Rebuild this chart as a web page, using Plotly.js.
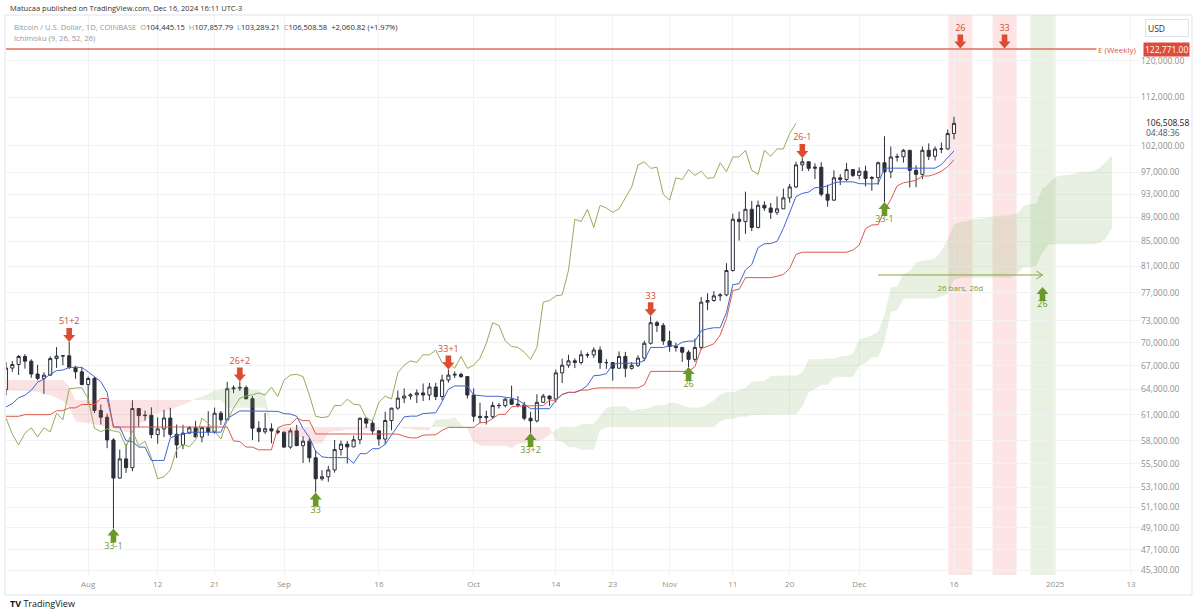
<!DOCTYPE html>
<html><head><meta charset="utf-8">
<script src="https://cdn.plot.ly/plotly-3.0.1.min.js"></script>
<style>html,body{margin:0;padding:0;background:#fff;}#chart{width:1200px;height:614px;}</style>
</head><body><div id="chart"></div>
<script>
// ---------- DATA (daily candles, Jul 19 2024 -> Dec 16 2024) ----------
const firstDay = '2024-07-19';
const open = [63990,66680,67140,68170,67560,65920,65370,65780,67900,68230,68260,66780,66200,
64620,65360,61480,60690,58110,54020,56040,55110,61710,60880,60920,58710,59350,60600,58740,57560,58870,59480,58440,59490,59010,61160,60380,64090,64180,64220,62880,59430,59030,59370,59120,
58970,57320,59130,57480,57970,56160,53950,54160,54870,57050,57650,57340,58130,60570,60010,59130,58210,60310,61760,62950,63200,63350,63580,63330,64300,63140,65180,65790,65880,65600,
63330,60800,60650,60760,62080,62060,62820,62220,62130,60580,60270,62450,63200,62850,66070,67050,67610,67400,68400,68380,69020,67370,67380,66660,68180,66640,67030,67960,69920,72720,72350,
70220,69490,69370,68730,67800,69360,75640,75880,76560,76700,80370,88650,88250,90350,87270,91050,90580,89830,90430,92350,94300,98370,98950,97720,97920,93000,91950,95960,95650,97480,
96410,97180,95850,96000,98770,97080,99850,99900,101150,97350,96600,101150,100000,101400,101420,104445.15];
const high = [67450,67600,68380,68480,67800,67100,66150,68200,69400,68300,70080,66970,66800,
65600,65580,62180,61100,58300,57050,57700,62700,61750,61470,61850,60680,61570,61800,59850,59820,59680,60280,59620,61400,61820,61420,64950,64500,65000,64480,63200,60230,61180,59980,59430,
59070,59430,59810,58520,58300,56990,54850,55300,58100,58040,57990,58590,60650,60630,60380,59210,61340,61790,63870,64130,63550,64000,64740,64800,64820,65830,66500,66260,66080,65620,
64130,62400,61460,62500,62370,62990,64480,63200,62520,61330,63420,63470,63280,66490,67900,68400,67930,68950,68690,69380,69500,67820,67440,68840,68780,67450,68330,70250,73620,72980,72680,
71590,70000,69400,69000,70570,76400,76950,77250,76950,81500,89600,89960,93450,91800,91850,91750,91450,92600,94000,94850,98970,99650,98990,98660,98880,94700,97350,96650,98700,97490,
97900,98200,96300,99000,103900,101900,100500,101400,101200,98300,101900,102500,101900,102650,105250,107857.79];
const low = [63300,66200,65800,66600,65450,65150,63450,65750,66700,67050,66550,65320,64520,
62300,61180,59860,57200,49050,53970,54560,54730,59590,60300,58290,57690,58430,58450,56140,57100,58850,58440,57850,58580,58800,59800,60350,63560,63820,62800,58100,57870,58780,57750,58740,
57220,57130,57420,55600,55670,52550,53750,53640,54590,56400,55550,57330,57640,59450,58700,57500,57620,59190,61570,62360,62770,62360,62600,62700,62720,62680,64850,65430,65440,62900,
60170,59990,59850,60480,61710,61840,62130,61850,60320,58900,60080,62400,62040,62450,64800,66720,66670,67130,68000,68000,66570,66570,65100,66580,65520,66490,66800,67550,69740,71440,69700,
68800,68810,67480,66800,67460,69100,74480,75700,75820,76500,80200,85100,86200,86650,87100,90060,88700,89380,90400,91500,94100,97220,97200,95740,92600,90800,91830,94620,95380,96100,
95700,94400,93600,94700,91600,95900,99000,98800,94200,94250,95700,99300,99200,100600,101250,103289.21];
const close = [66680,67140,68170,67560,65920,65370,65780,67900,68230,68260,66780,66200,64620,
65360,61480,60690,58110,54020,56040,55110,61710,60880,60920,58710,59350,60600,58740,57560,58870,59480,58440,59490,59010,61160,60380,64090,64180,64220,62880,59430,59030,59370,59120,58970,
57320,59130,57480,57970,56160,53950,54160,54870,57050,57650,57340,58130,60570,60010,59130,58210,60310,61760,62950,63200,63350,63580,63330,64300,63140,65180,65790,65880,65600,63330,
60800,60650,60760,62080,62060,62820,62220,62130,60580,60270,62450,63200,62850,66070,67050,67610,67400,68400,68380,69020,67370,67380,66660,68180,66640,67030,67960,69920,72720,72350,70220,
69490,69370,68730,67800,69360,75640,75880,76560,76700,80370,88650,88250,90350,87270,91050,90580,89830,90430,92350,94300,98370,98950,97720,97920,93000,91950,95960,95650,97480,96410,
97180,95850,96000,98770,97080,99850,99900,101150,97350,96600,101150,100000,101400,101420,104445.15,106508.58];

// Ichimoku conversion (blue) and base (red) lines, same days as candles
const tenkan = [61900,62300,63000,63300,63900,64900,65300,65890,66350,66425,66765,66765,66765,
66190,65630,64970,63640,59565,59565,58010,57925,57325,57315,55875,55875,55875,58335,58630,58715,58970,58970,58970,58970,58980,58980,60545,61025,61425,61425,61425,61435,61435,61375,61375,
61110,61065,60805,59400,58390,56865,56265,56180,56180,56180,56180,55570,56600,56600,57145,57145,57620,58670,59710,60730,60815,60815,61120,61150,61220,62510,64035,64430,64430,64430,
63335,63245,63175,63175,63175,63055,62965,62735,62165,61690,61690,61690,61690,62695,63400,63650,63650,63925,64515,65710,65770,65975,67150,67300,67300,67300,67300,67675,69360,69360,69360,
69570,69570,70055,70210,70210,71600,71875,72025,72025,74150,78200,78380,80455,81275,83965,84575,84635,84975,87100,89975,92585,93150,93375,94175,94175,94515,95025,95225,95225,95225,
94895,94840,94840,94900,97750,97750,97750,97750,97750,97750,97750,97750,97750,98425,99725,101030];
const kijun = [60800,60800,60800,60990,60990,60990,60990,60990,61450,61450,61790,61790,62190,
62190,62190,62900,62900,59565,59565,59565,59565,59565,59565,59565,59565,59565,59565,59565,59565,59565,59565,59565,59565,59565,59565,59565,58010,57925,57325,57315,57025,57025,57025,59485,
59780,59865,60570,60300,60300,58775,58775,58775,58775,58775,58775,58775,58775,58775,58775,58775,58775,58775,58775,58515,58340,58340,58645,58675,58685,59190,59525,59525,59525,59525,
59525,60070,60070,60545,61025,61025,61915,62000,62000,62000,62000,62060,62700,62700,63400,63650,63650,63925,63925,64140,64200,64200,64200,64200,64200,64200,64200,64575,66260,66260,66260,
66260,66260,66260,66260,66850,69220,69495,69850,71025,73300,77350,77530,79275,79275,79275,79275,79275,79485,79760,80670,82885,83225,83225,83225,83225,83225,83225,83225,83225,83555,
84375,87065,87675,87735,90200,92050,94500,95050,95275,95500,96300,96300,96640,97150,98025,99330];
// Leading spans as drawn (Jul 19 2024 -> Jan 10 2025)
const spanA = [63900,63900,63850,63850,63800,63700,63500,63300,63000,62600,61850,60200,60100,
60000,59875,59700,59500,59300,59125,59000,58950,59925,60175,61050,61150,61350,61550,61900,62145,62445,62945,63145,63440,63900,63938,64278,64278,64478,64190,63910,63935,63270,59565,59565,
58788,58745,58445,58440,57720,57720,57720,58950,59098,59140,59268,59268,59268,59268,59273,59273,60055,59518,59675,59375,59370,59230,59230,59200,60430,60445,60465,60688,59850,59345,
57820,57520,57478,57478,57478,57478,57173,57688,57688,57960,57960,58198,58723,59243,59623,59578,59578,59883,59913,59953,60850,61780,61978,61978,61978,61430,61658,61623,61860,62100,62040,
62440,62368,62083,61845,61845,61875,62195,62698,63400,63650,63650,63925,64220,64925,64985,65088,65675,65750,65750,65750,65750,66125,67810,67810,67810,67915,67915,68158,68235,68530,
70410,70685,70938,71525,73725,77775,77955,79865,80275,81620,81925,81955,82230,83430,85323,87735,88188,88300,88700,88700,88870,89125,89225,89225,89390,89635,90953,91258,91318,93975,94900,
96125,96400,96513,96625,97025,97025,97195,97788,98875,100180];
const spanB = [65175,65175,65175,65175,65175,65175,65175,65175,65175,65175,64375,62725,62725,
62725,62725,62725,62725,62725,62725,62725,62725,62725,62725,62725,62725,62725,62725,62725,62725,62725,62725,62725,62725,62725,62725,61790,61790,61790,61790,61790,61790,61790,59565,59565,
59565,59565,59565,59565,59565,59565,59565,59565,59565,59565,59565,59565,59565,59565,59565,59565,59565,59565,59565,59565,59565,59565,59565,59565,59565,59565,59565,59565,59565,59565,
59565,59565,59565,59565,59565,59565,59565,59565,59565,59565,59565,59565,59565,58010,57925,57325,57315,57025,57025,57025,59190,59525,59525,59525,59525,59525,59525,59525,59525,59525,59525,
59525,59525,59525,59525,59525,59525,59525,59525,60225,60475,60475,60750,60750,60965,61025,61025,61025,61025,61025,61025,61025,61945,63630,64105,64585,64585,65475,65560,65560,65560,
66950,67285,68075,68075,70200,74250,74430,76175,76175,76175,76175,76175,76175,76450,76875,78935,79275,79275,79275,79275,79275,79275,79275,79275,79275,79865,80845,80845,81050,83175,84500,
84500,84500,84500,84500,84500,84500,84500,84710,85385,87175];
const laggingShift = 25;

const priceTicks = [45300,47100,49100,51100,53100,55500,58000,61000,64000,67000,70000,73000,77000,81000,85000,89000,93000,97000,102000,112000,120000];
const priceTickText = ['45,300.00','47,100.00','49,100.00','51,100.00','53,100.00','55,500.00','58,000.00','61,000.00','64,000.00','67,000.00','70,000.00','73,000.00','77,000.00','81,000.00','85,000.00','89,000.00','93,000.00','97,000.00','102,000.00','112,000.00','120,000.00'];
const timeTicks = ['2024-08-01','2024-08-12','2024-08-21','2024-09-01','2024-09-16','2024-10-01','2024-10-14','2024-10-23','2024-11-01','2024-11-11','2024-11-20','2024-12-01','2024-12-16','2025-01-01','2025-01-13'];
const timeTickText = ['Aug','12','21','Sep','16','Oct','14','23','Nov','11','20','Dec','16','2025','13'];

const redDates = ['2024-07-29','2024-08-25','2024-09-27','2024-10-29','2024-11-22','2024-12-17','2024-12-24'];
const redPrices = [70080,65000,66500,73620,99650,122900,122900];
const redLabels = ['51+2','26+2','33+1','33','26-1','26','33'];
const greenDates = ['2024-08-05','2024-09-06','2024-10-10','2024-11-04','2024-12-05','2024-12-30'];
const greenPrices = [49050,52550,58900,66800,91600,77880];
const greenLabels = ['33-1','33','33+2','26','33-1','26'];

const levelPrice = 122771;
const levelLabel = 'E (Weekly)';
const bandCenters = ['2024-12-17','2024-12-24','2024-12-30'];
const bandColors = ['rgba(242,80,80,0.15)','rgba(242,80,80,0.15)','rgba(120,170,80,0.16)'];
const measureFrom = '2024-12-04', measureTo = '2024-12-30', measurePrice = 79680, measureLabel = '26 bars, 26d';

// ---------- GEOMETRY ----------
const W=1200,H=614,ML=6,MR=60,MT=15,MB=39;
const PW=W-ML-MR, PH=H-MT-MB;
const xStart='2024-07-19 00:00:00', xEnd='2025-01-14 10:20:00';
const yLo=44876, yHi=131040;
const DAY=86400000;
function toMs(s){ s=String(s); if(s.length===10) s+=' 00:00:00'; return Date.parse(s.replace(' ','T')+'Z'); }
function ms2s(ms){ return new Date(ms).toISOString().slice(0,19).replace('T',' '); }
const msPerPx=(toMs(xEnd)-toMs(xStart))/PW;
const pxPerLn=PH/Math.log(yHi/yLo);
const t0=toMs(firstDay);
const dates=close.map((_,i)=>ms2s(t0+i*DAY));
const spanDates=spanA.map((_,i)=>ms2s(t0+i*DAY));
const lagDates=close.map((_,i)=>ms2s(t0+(i-laggingShift)*DAY));
function xp(px){return (px-ML)/PW;}
function ypPix(py){return (MT+PH-py)/PH;}
function ypPrice(p){return Math.log(p/yLo)/Math.log(yHi/yLo);}
function shiftY(p,px){return p*Math.exp(px/pxPerLn);}

// cloud polygons
function cloud(){
  const g={x:[],y:[]}, r={x:[],y:[]};
  let run=null;
  const T=spanDates.map(toMs);
  function flush(){ if(!run) return; const tg=run.s>0?g:r; const pts=run.up.concat(run.dn.slice().reverse());
    pts.forEach(p=>{tg.x.push(ms2s(p[0]));tg.y.push(p[1]);}); tg.x.push(null); tg.y.push(null); run=null; }
  for(let i=0;i<T.length;i++){
    const d=spanA[i]-spanB[i]; const s=d>0?1:(d<0?-1:0);
    if(!run){ run={s:s||-1,up:[[T[i],spanA[i]]],dn:[[T[i],spanB[i]]]}; continue; }
    if(s===0||s===run.s){ run.up.push([T[i],spanA[i]]); run.dn.push([T[i],spanB[i]]); }
    else {
      const d0=spanA[i-1]-spanB[i-1]; const f=d0/(d0-d);
      const tc=T[i-1]+f*(T[i]-T[i-1]); const yc=spanA[i-1]+f*(spanA[i]-spanA[i-1]);
      run.up.push([tc,yc]); run.dn.push([tc,yc]); flush();
      run={s:s,up:[[tc,yc],[T[i],spanA[i]]],dn:[[tc,yc],[T[i],spanB[i]]]};
    }
  }
  flush();
  return [g,r];
}
const [cg,cr]=cloud();

function arrows(ds,ps,dir){ // dir -1: pointing down (body above), +1 pointing up
  const x=[],y=[]; const s=dir<0?1:-1;
  const pts=[[0,0],[-6,7],[-2.8,7],[-2.8,14],[2.8,14],[2.8,7],[6,7],[0,0]];
  ds.forEach((d,i)=>{ const t=toMs(d); pts.forEach(p=>{x.push(ms2s(t+p[0]*msPerPx)); y.push(shiftY(ps[i],s*p[1]));}); x.push(null); y.push(null); });
  return {x,y};
}
const ra=arrows(redDates,redPrices,-1), ga=arrows(greenDates,greenPrices,1);
const RED='#dd4b32', GREEN='#6b982a', FONT='Open Sans, Liberation Sans, sans-serif';

const traces=[
 {x:cr.x,y:cr.y,type:'scatter',mode:'lines',fill:'toself',fillcolor:'rgba(240,90,90,0.17)',line:{width:0},hoverinfo:'skip'},
 {x:cg.x,y:cg.y,type:'scatter',mode:'lines',fill:'toself',fillcolor:'rgba(110,165,80,0.17)',line:{width:0},hoverinfo:'skip'},
 {x:lagDates,y:close,type:'scatter',mode:'lines',line:{color:'#98ab5c',width:1},hoverinfo:'skip'},
 {x:[ms2s(t0-3*DAY),'2025-01-07 19:00:00'],y:[levelPrice,levelPrice],type:'scatter',mode:'lines',line:{color:'#e06c5e',width:1.5},hoverinfo:'skip'},
 {type:'candlestick',x:dates,open:open,high:high,low:low,close:close,whiskerwidth:0,
  increasing:{line:{color:'#2b2f3a',width:1},fillcolor:'#ffffff'},
  decreasing:{line:{color:'#2b2f3a',width:1},fillcolor:'#2b2f3a'},hoverinfo:'skip'},
 {x:dates,y:tenkan,type:'scatter',mode:'lines',line:{color:'#3d66d6',width:1},hoverinfo:'skip'},
 {x:dates,y:kijun,type:'scatter',mode:'lines',line:{color:'#d95a4e',width:1},hoverinfo:'skip'},
 {x:ra.x,y:ra.y,type:'scatter',mode:'lines',fill:'toself',fillcolor:RED,line:{width:0,color:RED},hoverinfo:'skip'},
 {x:ga.x,y:ga.y,type:'scatter',mode:'lines',fill:'toself',fillcolor:GREEN,line:{width:0,color:GREEN},hoverinfo:'skip'},
 {x:redDates,y:redPrices.map(p=>shiftY(p,20)),text:redLabels,type:'scatter',mode:'text',textposition:'middle center',textfont:{family:FONT,size:9,color:'#d44a36'},hoverinfo:'skip'},
 {x:greenDates,y:greenPrices.map(p=>shiftY(p,-18)),text:greenLabels,type:'scatter',mode:'text',textposition:'middle center',textfont:{family:FONT,size:9,color:'#6f962a'},hoverinfo:'skip'},
 {x:[measureFrom,measureTo],y:[measurePrice,measurePrice],type:'scatter',mode:'lines',line:{color:'#86a53b',width:1},hoverinfo:'skip'},
 {x:[ms2s(toMs(measureTo)-6*msPerPx),measureTo,ms2s(toMs(measureTo)-6*msPerPx)],y:[shiftY(measurePrice,4),measurePrice,shiftY(measurePrice,-4)],type:'scatter',mode:'lines',line:{color:'#86a53b',width:1},hoverinfo:'skip'},
 {x:['2024-12-17'],y:[shiftY(measurePrice,-14)],text:[measureLabel],type:'scatter',mode:'text',textfont:{family:FONT,size:8,color:'#7d9c33'},hoverinfo:'skip'}
];

const shapes=bandCenters.map((c,i)=>({type:'rect',xref:'x',yref:'paper',x0:ms2s(toMs(c)-12*msPerPx),x1:ms2s(toMs(c)+12*msPerPx),y0:0,y1:1,fillcolor:bandColors[i],line:{width:0},layer:'below'}));
shapes.push({type:'rect',xref:'paper',yref:'paper',x0:xp(5),x1:xp(1192),y0:ypPix(595),y1:ypPix(15),line:{color:'#e0e3eb',width:1},fillcolor:'rgba(0,0,0,0)'});

const gray='#9598a1', dark='#2a2e39';
const ann=[
 {xref:'paper',yref:'paper',x:xp(8),y:ypPix(8),xanchor:'left',yanchor:'middle',showarrow:false,text:'Matucaa published on TradingView.com, Dec 16, 2024 16:11 UTC-3',font:{family:FONT,size:7.5,color:'#333'}},
 {xref:'paper',yref:'paper',x:xp(12),y:ypPix(27),xanchor:'left',yanchor:'middle',showarrow:false,
  text:'<span style="color:'+gray+'">Bitcoin / U.S. Dollar, 1D, COINBASE\u00a0\u00a0O</span>104,445.15\u00a0\u00a0<span style="color:'+gray+'">H</span>107,857.79\u00a0\u00a0<span style="color:'+gray+'">L</span>103,289.21\u00a0\u00a0<span style="color:'+gray+'">C</span>106,508.58\u00a0\u00a0+2,060.82 (+1.97%)',
  font:{family:FONT,size:7.6,color:dark}},
 {xref:'paper',yref:'paper',x:xp(12),y:ypPix(38),xanchor:'left',yanchor:'middle',showarrow:false,text:'Ichimoku (9, 26, 52, 26)',font:{family:FONT,size:7.6,color:gray}},
 {xref:'paper',yref:'paper',x:xp(1167),y:ypPix(28),xanchor:'center',yanchor:'middle',showarrow:false,text:'USD',width:38,height:12,align:'left',bordercolor:'#e0e3eb',borderwidth:1,borderpad:2,bgcolor:'#fff',font:{family:FONT,size:8.5,color:dark}},
 {xref:'paper',yref:'paper',x:xp(1143),y:ypPrice(levelPrice),xanchor:'left',yanchor:'middle',showarrow:false,text:'122,771.00',bgcolor:'#dd4b39',borderpad:1,font:{family:FONT,size:8.5,color:'#fff'}},
 {xref:'paper',yref:'paper',x:xp(1138),y:ypPrice(levelPrice),xanchor:'right',yanchor:'middle',showarrow:false,text:levelLabel,bgcolor:'#fff',font:{family:FONT,size:8,color:'#d9553f'}},
 {xref:'paper',yref:'paper',x:xp(1144),y:ypPix(122),xanchor:'left',yanchor:'middle',showarrow:false,text:'106,508.58',font:{family:FONT,size:8.5,color:'#131722'}},
 {xref:'paper',yref:'paper',x:xp(1144),y:ypPix(132),xanchor:'left',yanchor:'middle',showarrow:false,text:'04:48:36',font:{family:FONT,size:8.5,color:'#50535e'}},
 {xref:'paper',yref:'paper',x:xp(8),y:ypPix(603),xanchor:'left',yanchor:'middle',showarrow:false,text:'<b>TV</b> TradingView',font:{family:FONT,size:9,color:'#131722'}}
];

const layout={width:W,height:H,margin:{l:ML,r:MR,t:MT,b:MB},paper_bgcolor:'#fff',plot_bgcolor:'#fff',showlegend:false,hovermode:false,
 xaxis:{type:'date',range:[xStart,xEnd],rangeslider:{visible:false},tickmode:'array',tickvals:timeTicks,ticktext:timeTickText,ticklabelstandoff:3,
   tickfont:{family:FONT,size:8,color:'#8f8f8f'},showgrid:true,gridcolor:'#f2f2f2',zeroline:false,showline:false,ticks:'',automargin:false,fixedrange:true},
 yaxis:{type:'log',side:'right',range:[Math.log10(yLo),Math.log10(yHi)],tickmode:'array',tickvals:priceTicks,ticktext:priceTickText,
   tickfont:{family:FONT,size:8.5,color:'#8f8f8f'},showgrid:true,gridcolor:'#f2f2f2',zeroline:false,showline:false,ticks:'',automargin:false,fixedrange:true},
 shapes:shapes,annotations:ann};
Plotly.newPlot('chart',traces,layout,{displayModeBar:false,staticPlot:true});
</script></body></html>
